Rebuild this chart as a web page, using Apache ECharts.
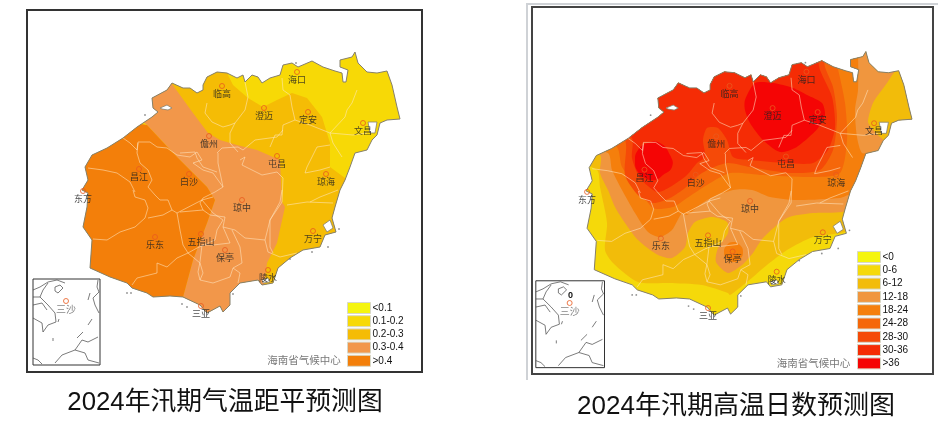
<!DOCTYPE html>
<html>
<head>
<meta charset="utf-8">
<script src="https://cdn.jsdelivr.net/npm/echarts@6/dist/echarts.min.js"></script>
<style>
html, body { margin: 0; padding: 0; background: #fff; }
#chart { width: 947px; height: 423px; }
</style>
</head>
<body>
<div id="chart"></div>
<script>
'use strict';
// map units are the pixel grid of the left panel, the right panel has its own axis range
var coast = [[203,85],[207,77],[217,72],[227,73],[237,78],[243,75],[245,82],[252,75],[258,77],[262,83],[270,78],[280,75],[283,65],[292,63],[298,67],[312,61],[323,67],[335,71],[342,73],[343,82],[346,82],[348,70],[340,67],[340,60],[352,57],[355,52],[358,63],[367,72],[377,73],[387,71],[392,85],[397,107],[400,119],[387,120],[380,123],[377,135],[372,140],[367,150],[355,153],[350,167],[345,180],[340,190],[335,207],[332,218],[336,232],[325,235],[320,247],[303,250],[290,258],[278,268],[273,283],[262,285],[258,280],[240,283],[230,293],[230,305],[223,312],[220,306],[207,313],[200,305],[183,297],[170,296],[153,297],[147,293],[132,288],[127,283],[110,277],[90,268],[92,240],[83,227],[87,207],[88,193],[82,190],[88,180],[85,167],[92,155],[107,148],[123,138],[137,127],[152,117],[158,112],[153,108],[152,98],[167,90],[172,83],[183,88],[190,88],[197,93],[203,90]];
var bays = [
    [[160,108],[167,105],[172,108],[168,110],[162,109]],
    [[368,122],[377,122],[375,133],[370,133]],
    [[323,225],[330,220],[333,228],[327,232]],
    [[262,280],[268,278],[270,282],[263,283]]
];
var islets = [[339,229],[328,247],[312,252],[290,259],[233,294],[182,304],[187,307],[127,293],[131,293],[145,115],[296,63]];
var borders = [
    [[123,138],[130,143],[137,150],[138,142],[150,142],[157,147],[167,148],[177,155],[190,157],[197,152],[202,160],[193,163],[203,170],[213,173],[223,187]],
    [[180,153],[195,152],[197,158],[203,167],[217,172]],
    [[223,187],[215,192],[203,198],[200,203],[203,210],[180,212]],
    [[217,153],[222,148],[238,147],[243,150],[255,140],[277,137],[283,130]],
    [[218,153],[218,163],[223,187]],
    [[240,160],[245,157],[242,165],[252,170],[262,175],[277,172],[283,178],[282,202],[270,220],[265,240],[245,238],[235,230],[223,227],[225,217],[210,215],[203,210]],
    [[265,240],[268,252],[280,257],[297,253]],
    [[232,230],[240,247],[242,263],[233,268],[240,273],[238,283]],
    [[223,227],[230,243],[213,245],[202,245],[200,262],[198,272],[200,280],[213,283],[230,277],[233,268]],
    [[282,78],[283,90],[290,95],[292,107],[295,120],[283,125],[282,135],[275,135],[270,147]],
    [[245,82],[248,97],[245,110],[235,123],[230,133],[230,143],[238,152]],
    [[207,103],[205,113],[212,122],[223,127],[230,125],[235,123]],
    [[357,90],[352,103],[347,110],[345,117],[330,133],[333,143],[342,157]],
    [[295,120],[310,125],[330,133],[353,135],[367,133]],
    [[330,145],[317,147],[307,167],[305,173],[320,170],[330,167]],
    [[287,205],[307,202],[333,203]],
    [[338,190],[320,197],[310,202]],
    [[282,190],[280,202],[270,220],[270,247],[273,253]],
    [[133,190],[135,197],[145,200],[148,208],[145,218],[135,227],[120,232],[107,240],[93,239]],
    [[88,168],[103,170],[117,173],[130,182],[135,192]],
    [[138,143],[137,153],[140,163],[148,170],[152,180],[148,187],[155,195],[160,200],[168,200],[172,210],[163,215],[148,218]],
    [[172,210],[177,213],[202,200],[213,197]],
    [[177,213],[180,230],[183,245],[188,253],[177,258],[167,267],[157,263],[157,273],[137,278],[132,285]],
    [[188,253],[200,263],[203,273],[200,280]],
    [[202,200],[213,213],[223,220],[217,230],[215,240],[197,248],[188,253]]
];
var insetFrame = [[33,279],[100,279],[100,365],[33,365],[33,279]];
var insetLines = [
    [[33,290],[40,287],[48,282],[57,280],[65,283]],
    [[55,287],[60,285],[63,288],[58,293],[55,291],[55,287]],
    [[48,283],[43,290],[40,297],[48,305],[55,313],[56,322],[48,325],[43,332],[42,323],[33,318]],
    [[33,297],[40,297]],
    [[33,305],[42,303],[47,310]],
    [[98,280],[97,287],[99,292],[93,298],[95,305],[99,313]],
    [[90,293],[88,300]],
    [[92,319],[88,325]],
    [[83,332],[77,338]],
    [[55,363],[62,355],[75,350],[82,340],[88,342],[98,337]],
    [[75,350],[85,353],[88,360],[99,363]],
    [[33,358],[38,360],[42,364]],
    [[59,319],[58,322]],
    [[53,338],[53,341]]
];

var cityNames = ['临高','海口','澄迈','定安','文昌','儋州','屯昌','琼海','昌江','白沙','东方','琼中','万宁','乐东','五指山','保亭','陵水','三亚'];
var cityCoords = [[222,86],[297,72],[264,108],[308,112],[363,123],[209,136],[277,156],[326,174],[139,169],[189,174],[83,191],[242,200],[313,231],[155,237],[201,234],[225,250],[268,270],[201,306]];
var inkNote = '海南省气候中心';
var inkNoteAt = [304,360];
var insetCity = '三沙';
var insetCityAt = [66,301];

// left panel: temperature anomaly bands
var anomalyLevels = ['<0.1','0.1-0.2','0.2-0.3','0.3-0.4','>0.4'];
var anomalyColors = ['#F5F50F','#F7D906','#F5BC05','#F2974A','#F37F0A'];
var anomalyRings = [
    null,
    [[27,10],[422,10],[422,372],[27,372]],
    [[160,40],[228,40],[228,75],[233,85],[248,98],[263,107],[277,100],[292,93],[307,98],[322,117],[330,143],[330,167],[345,178],[370,200],[370,330],[180,330],[180,200]],
    [[160,65],[172,84],[193,113],[208,133],[220,140],[237,145],[257,150],[280,160],[282,202],[285,207],[277,243],[267,263],[265,280],[262,300],[200,340],[183,297],[193,260],[207,223],[215,200],[207,187],[177,157],[147,125],[100,90]],
    [[147,125],[177,157],[207,187],[215,200],[207,223],[193,260],[183,297],[183,340],[60,340],[60,110]]
];

// right panel: hot day bands, traced in right panel pixels
var hotLevels = ['<0','0-6','6-12','12-18','18-24','24-28','28-30','30-36','>36'];
var hotColors = ['#F5F50F','#F5D90A','#F2BC0A','#F0963E','#F57F0C','#F5670A','#F54A08','#F52C05','#F50505'];
var hotRings = [
    null,
    [[532,7],[933,7],[933,374],[532,374]],
    [[560,150],[597,170],[600,187],[607,223],[605,250],[613,263],[638,282],[668,283],[702,285],[728,293],[730,295],[747,282],[767,265],[787,250],[813,237],[840,233],[860,225],[880,150],[880,30],[560,30]],
    [[560,140],[600,155],[600,173],[608,190],[615,207],[625,223],[638,240],[658,255],[672,258],[685,247],[688,233],[695,222],[712,217],[727,222],[728,233],[718,248],[716,262],[728,273],[742,265],[753,253],[763,238],[787,218],[813,213],[842,212],[860,205],[925,140],[925,30],[560,30]],
    [[570,140],[608,153],[612,170],[622,190],[635,213],[648,232],[660,237],[672,230],[682,213],[687,215],[707,200],[733,190],[752,190],[770,197],[797,200],[840,198],[848,195],[865,190],[872,153],[862,153],[857,137],[855,110],[858,90],[858,50],[857,30],[570,30]],
    [[590,130],[617,147],[622,167],[640,190],[653,208],[673,207],[687,198],[707,185],[730,173],[763,175],[813,177],[840,173],[847,140],[845,103],[837,65],[830,40],[590,40]],
    [[600,125],[625,140],[625,175],[638,195],[653,203],[670,198],[685,188],[702,173],[727,163],[750,167],[790,173],[820,170],[833,150],[837,117],[833,87],[825,67],[820,40],[600,40]],
    [[610,120],[632,138],[632,158],[640,178],[657,192],[670,187],[687,175],[697,163],[705,157],[703,140],[707,128],[718,128],[727,140],[733,157],[750,160],[787,163],[813,163],[828,150],[835,127],[832,97],[820,70],[815,50],[790,40],[610,40]],
    [[745,100],[755,83],[773,83],[793,88],[807,95],[822,103],[825,115],[818,128],[808,138],[795,148],[780,152],[763,140],[750,123],[745,110]]
];
var hotLobe = [[897,70],[887,83],[873,103],[868,122],[875,132],[880,137],[900,150],[925,120],[925,70]];
var hotBlobs = [
    {level: 2, ring: hotLobe, smooth: 0.2},
    {level: 4, ring: [[724,252],[727,245],[733,242],[740,245],[743,252],[740,259],[733,262],[727,259]], smooth: 0.5},
    {level: 8, ring: [[635,162],[638,150],[648,143],[660,143],[670,155],[672,167],[663,175],[655,180],[645,178],[638,172]], smooth: 0.5}
];

function toMap(p) {
    return [(p[0] - 502) / 1.025, (p[1] + 1) / 1.01];
}

function pts(api, list) {
    return list.map(function (p) { return api.coord(p); });
}

function ringSeries(panel, name, color, ring, smooth) {
    return {
        type: 'custom', name: name, xAxisIndex: panel, yAxisIndex: panel,
        coordinateSystem: 'cartesian2d', clip: false, silent: true,
        itemStyle: {color: color},
        data: ring ? [ring[0]] : [],
        renderItem: function (params, api) {
            return {
                type: 'polygon',
                shape: {points: pts(api, ring), smooth: smooth},
                clipPath: {type: 'polygon', shape: {points: pts(api, coast)}},
                style: {fill: color}
            };
        }
    };
}

function shapeSeries(panel, list, closed, style) {
    return {
        type: 'custom', xAxisIndex: panel, yAxisIndex: panel,
        coordinateSystem: 'cartesian2d', clip: false, silent: true,
        data: list.map(function (l) { return l[0]; }),
        renderItem: function (params, api) {
            return {
                type: closed ? 'polygon' : 'polyline',
                shape: {points: pts(api, list[params.dataIndex])},
                style: style
            };
        }
    };
}

function overlays(panel) {
    var cjk = 'Noto Sans CJK SC';
    return [
        shapeSeries(panel, borders, false, {fill: 'none', stroke: 'rgba(255,232,200,0.6)', lineWidth: 0.9}),
        shapeSeries(panel, [coast], true, {fill: 'none', stroke: '#86806c', lineWidth: 1}),
        shapeSeries(panel, bays, true, {fill: '#fff', stroke: '#86806c', lineWidth: 0.8}),
        shapeSeries(panel, [insetFrame], false, {fill: 'none', stroke: '#333', lineWidth: 1}),
        shapeSeries(panel, insetLines, false, {fill: 'none', stroke: '#444', lineWidth: 0.7}),
        {
            type: 'scatter', xAxisIndex: panel, yAxisIndex: panel, silent: true,
            symbolSize: 1.8, itemStyle: {color: '#777'}, data: islets
        },
        {
            type: 'scatter', xAxisIndex: panel, yAxisIndex: panel, silent: true,
            symbolSize: 5,
            itemStyle: {color: 'rgba(0,0,0,0)', borderColor: '#EA5A1E', borderWidth: 1},
            label: {
                show: true, position: 'bottom', distance: 0,
                fontFamily: cjk, fontSize: 9, color: '#222',
                formatter: function (p) { return p.data.name; }
            },
            data: cityCoords.map(function (c, i) { return {name: cityNames[i], value: c}; })
                .concat([{name: insetCity, value: insetCityAt, label: {color: '#666', fontSize: 10}}])
        },
        {
            type: 'scatter', xAxisIndex: panel, yAxisIndex: panel, silent: true,
            symbolSize: 0,
            label: {
                show: true, position: 'inside', fontFamily: cjk, fontSize: 10.5, color: '#555',
                formatter: inkNote
            },
            data: [inkNoteAt]
        }
    ];
}

var series = [];
anomalyLevels.forEach(function (name, i) {
    series.push(ringSeries(0, name, anomalyColors[i], anomalyRings[i], 0));
});
series = series.concat(overlays(0));

// the lobe in the north east stays on top of the warmer bands, so it goes in after them
hotLevels.forEach(function (name, i) {
    var ring = hotRings[i] ? hotRings[i].map(toMap) : null;
    series.push(ringSeries(1, name, hotColors[i], ring, i > 1 ? 0.25 : 0));
    hotBlobs.forEach(function (b) {
        if (b.level === i && b.level !== 2) {
            series.push(ringSeries(1, name + ' ', hotColors[i], b.ring.map(toMap), b.smooth));
        }
    });
});
series.push(ringSeries(1, hotLevels[2] + ' ', hotColors[2], hotBlobs[0].ring.map(toMap), hotBlobs[0].smooth));
series = series.concat(overlays(1));

function legendOf(names, left, top, gap) {
    return {
        data: names, orient: 'vertical', left: left, top: top, padding: 0,
        itemWidth: 23, itemHeight: 11, itemGap: gap, icon: 'rect', selectedMode: false,
        itemStyle: {borderColor: '#d8d8c8', borderWidth: 1},
        textStyle: {fontFamily: 'Liberation Sans', fontSize: 10, lineHeight: 10, color: '#111', padding: [0, 0, 0, -3]}
    };
}

var myChart = echarts.init(document.getElementById('chart'));
var leftMin = toMap([532, 7]);
var leftMax = toMap([933, 374]);
var option = {
    animation: false,
    backgroundColor: '#fff',
    grid: [
        {left: 27, top: 10, width: 395, height: 362, show: true, backgroundColor: '#fff', borderColor: '#333', borderWidth: 2},
        {left: 532, top: 7, width: 401, height: 367, show: true, backgroundColor: '#fff', borderColor: '#444', borderWidth: 2}
    ],
    xAxis: [
        {type: 'value', gridIndex: 0, min: 27, max: 422, show: false},
        {type: 'value', gridIndex: 1, min: leftMin[0], max: leftMax[0], show: false}
    ],
    yAxis: [
        {type: 'value', gridIndex: 0, min: 10, max: 372, inverse: true, show: false},
        {type: 'value', gridIndex: 1, min: leftMin[1], max: leftMax[1], inverse: true, show: false}
    ],
    legend: [
        legendOf(anomalyLevels, 347, 302, 1.2),
        legendOf(hotLevels, 857, 251, 1.3)
    ],
    title: [
        {text: '2024年汛期气温距平预测图', left: 225, top: 390, padding: 0, textAlign: 'center',
            textStyle: {fontFamily: 'Liberation Sans, Noto Sans CJK SC', fontSize: 25.8, fontWeight: 'normal', color: '#111'}},
        {text: '2024年汛期高温日数预测图', left: 736, top: 394, padding: 0, textAlign: 'center',
            textStyle: {fontFamily: 'Liberation Sans, Noto Sans CJK SC', fontSize: 26, fontWeight: 'normal', color: '#111'}}
    ],
    graphic: [
        {type: 'polyline', shape: {points: [[527, 380], [527, 4], [938, 4]]}, style: {fill: 'none', stroke: '#cfd2d6', lineWidth: 2}},
        {type: 'text', left: 568, top: 291, style: {text: '0', fontFamily: 'Liberation Sans', fontSize: 9, fontWeight: 'bold', fill: '#111'}}
    ],
    series: series
};
myChart.setOption(option);
</script>
</body>
</html>
